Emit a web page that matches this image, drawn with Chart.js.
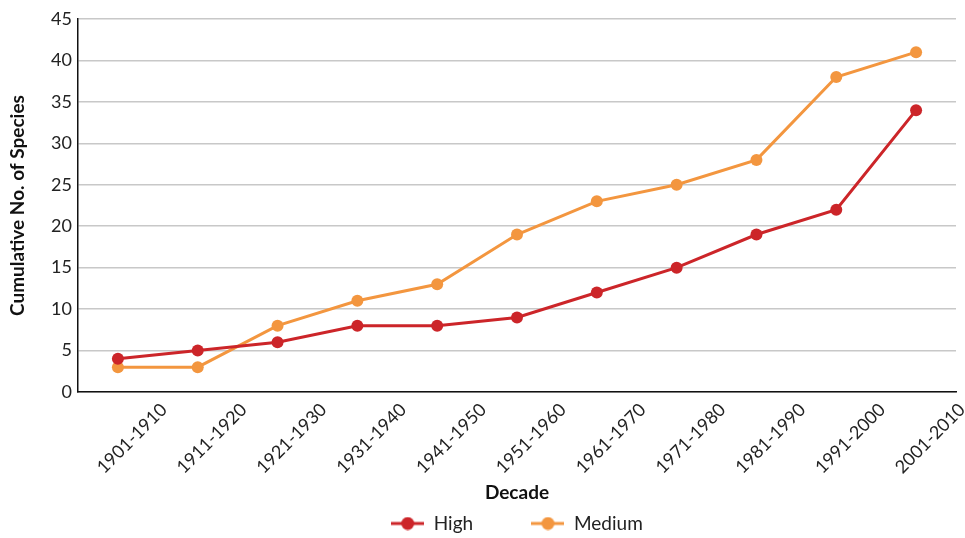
<!DOCTYPE html>
<html>
<head>
<meta charset="utf-8">
<script src="https://cdn.jsdelivr.net/npm/chart.js@4"></script>
<style>
  html, body { margin: 0; padding: 0; background: #fff; }
  #wrap { width: 965px; height: 538px; }
</style>
</head>
<body>
<div id="wrap"><canvas id="speciesChart"></canvas></div>
<script>
// data
const decades = ["1901-1910", "1911-1920", "1921-1930", "1931-1940", "1941-1950",
    "1951-1960", "1961-1970", "1971-1980", "1981-1990", "1991-2000", "2001-2010"];
const highValues = [4, 5, 6, 8, 8, 9, 12, 15, 19, 22, 34];
const mediumValues = [3, 3, 8, 11, 13, 19, 23, 25, 28, 38, 41];
const yTicks = [0, 5, 10, 15, 20, 25, 30, 35, 40, 45];

const RED = "#cc2529";
const ORANGE = "#f3963f";

// little line + dot marker for the legend
function legendMarker(color) {
    const c = document.createElement("canvas");
    c.width = 33;
    c.height = 14;
    const g = c.getContext("2d");
    g.strokeStyle = color;
    g.lineWidth = 3;
    g.beginPath();
    g.moveTo(0, 7);
    g.lineTo(33, 7);
    g.stroke();
    g.fillStyle = color;
    g.beginPath();
    g.arc(16.5, 7, 6.5, 0, Math.PI * 2);
    g.fill();
    return c;
}

Chart.defaults.font.family = "Lato, 'Open Sans', sans-serif";
Chart.defaults.color = "#222";

document.addEventListener("DOMContentLoaded", () => {
    const ctx = document.getElementById("speciesChart").getContext("2d");
    new Chart(ctx, {
        type: "line",
        data: {
            labels: decades,
            datasets: [
                {
                    label: "High",
                    data: highValues,
                    borderColor: RED,
                    backgroundColor: RED,
                    borderWidth: 3,
                    pointRadius: 6,
                    pointBorderWidth: 0,
                    tension: 0,
                    fill: false,
                },
                {
                    label: "Medium",
                    data: mediumValues,
                    borderColor: ORANGE,
                    backgroundColor: ORANGE,
                    borderWidth: 3,
                    pointRadius: 6,
                    pointBorderWidth: 0,
                    tension: 0,
                    fill: false,
                },
            ],
        },
        options: {
            responsive: true,
            maintainAspectRatio: false,
            animation: false,
            layout: {
                padding: { top: 19, right: 9, left: 0, bottom: -5 },
            },
            scales: {
                x: {
                    offset: true,
                    grid: { display: false, drawTicks: false },
                    border: { display: true, color: "#111", width: 1.5 },
                    ticks: {
                        minRotation: 45,
                        maxRotation: 45,
                        autoSkip: false,
                        labelOffset: 46,
                        padding: 7,
                        font: { size: 18 },
                        color: "#222",
                    },
                    title: {
                        display: true,
                        text: "Decade",
                        font: { size: 19, weight: "bold" },
                        color: "#111",
                        padding: { top: 4, bottom: 10 },
                    },
                    afterFit: (scale) => { scale.height = 122; },
                },
                y: {
                    min: 0,
                    max: 45,
                    afterBuildTicks: (scale) => {
                        scale.ticks = yTicks.map((v) => ({ value: v }));
                    },
                    grid: {
                        color: "#c8c8c8",
                        lineWidth: 1.5,
                        drawTicks: false,
                    },
                    border: { display: true, color: "#111", width: 1.5 },
                    ticks: {
                        padding: 6,
                        font: { size: 18 },
                        color: "#222",
                    },
                    title: {
                        display: true,
                        text: "Cumulative No. of Species",
                        font: { size: 19, weight: "bold" },
                        color: "#111",
                        padding: { top: 6, bottom: 4 },
                    },
                    afterFit: (scale) => { scale.width = 78; },
                },
            },
            plugins: {
                legend: {
                    position: "bottom",
                    fullSize: false,
                    labels: {
                        usePointStyle: true,
                        pointStyleWidth: 33,
                        padding: 0,
                        color: "#222",
                        font: { size: 19 },
                        generateLabels: (chart) =>
                            chart.data.datasets.map((ds, i) => ({
                                // trailing spaces open the gap between the two entries
                                text: i === 0 ? ds.label + "            " : ds.label,
                                pointStyle: legendMarker(ds.borderColor),
                                fillStyle: ds.borderColor,
                                strokeStyle: ds.borderColor,
                                lineWidth: 0,
                                hidden: false,
                                datasetIndex: i,
                                fontColor: "#222",
                            })),
                    },
                },
                tooltip: { enabled: false },
            },
        },
    });
});
</script>
</body>
</html>
